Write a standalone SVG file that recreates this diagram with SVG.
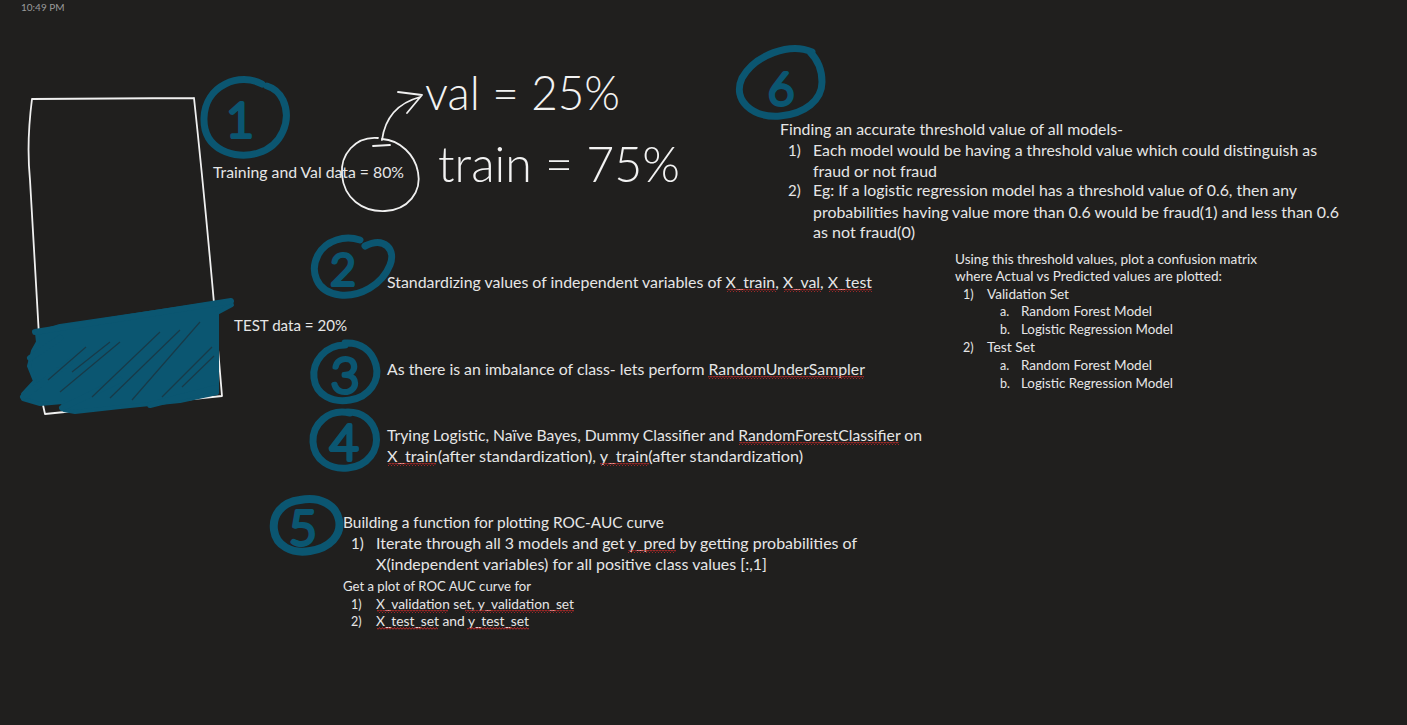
<svg xmlns="http://www.w3.org/2000/svg" width="1407" height="725" viewBox="0 0 1407 725">
<style>
.t{font-family:Lato,"Open Sans","Liberation Sans",sans-serif;font-size:15px;fill:#e6e6e6}
.s{font-family:Lato,"Open Sans","Liberation Sans",sans-serif;font-size:12.5px;fill:#e6e6e6}
.hw{font-family:Lato,"Open Sans","Liberation Sans",sans-serif;font-weight:300;fill:#f2f2f2}
.dg{font-family:Lato,"Open Sans","Liberation Sans",sans-serif;font-weight:300;fill:#0b5671;stroke:#0b5671;stroke-width:4;stroke-linejoin:round;text-anchor:middle}
.ring{fill:none;stroke:#0b5671;stroke-width:7;stroke-linecap:round;stroke-linejoin:round}
.ink{fill:none;stroke:#f0f0f0;stroke-width:1.8;stroke-linecap:round;stroke-linejoin:round}
.scr{fill:none;stroke:#0b5671;stroke-width:6;stroke-linecap:round}
</style>
<defs>
<pattern id="sq" width="3" height="3" patternUnits="userSpaceOnUse">
<path d="M0,2.5 L1.5,0.5 L3,2.5" fill="none" stroke="#d42a2a" stroke-width="0.9"/>
</pattern>
</defs>
<rect width="1407" height="725" fill="#201f1e"/>
<text x="21" y="11" style="font-family:Lato,'Open Sans',sans-serif;font-size:10px;fill:#9a9a9a">10:49 PM</text>

<g id="split-box">
<path class="ink" d="M32,99 L194,98 M194,98 C205,200 214,300 222,396 L45,414 L43,405 M32,99 C28,130 28,160 30,180 L43,405"/>
<path d="M37,333 L60,326 L230,301 L232,305 L217,313 L217,393 L180,401 L120,407 L75,412 L64,410 L63,402 L40,404 L23,399 L23,394 L35,381 L29,366 L33,351 L38,342 Z" fill="#0b5671" stroke="#0b5671" stroke-width="4" stroke-linejoin="round"/>
<path class="scr" d="M35,332 L231,301 M23,397 L70,362 M30,358 L60,338 M62,408 L120,380 M150,405 L216,388"/>
<path d="M60,392 L120,342 M92,397 L160,332 M132,400 L200,322 M72,372 L110,342 M162,397 L212,347 M48,380 L86,347 M182,387 L214,356 M110,398 L180,330" stroke="#183a48" stroke-width="1.2" fill="none"/>
<text class="t" x="213" y="178" textLength="191" lengthAdjust="spacingAndGlyphs">Training and Val data = 80%</text>
<text class="t" x="234" y="331" textLength="113" lengthAdjust="spacingAndGlyphs">TEST data = 20%</text>
</g>

<g id="step1">
<path class="ring" d="M262,84 C240,72 205,85 204,118 C203,150 235,160 258,153 C282,146 292,120 283,100 C279,92 274,88 267,86"/>
<text class="dg" x="240" y="137" font-size="48">1</text>
</g>

<g id="split-note">
<path class="ink" d="M378,138 C355,136 340,155 342,175 C344,198 362,212 385,211 C408,210 422,192 418,172 C415,155 400,140 382,139 M373,146 L390,145"/>
<text class="hw" x="425" y="110" font-size="48" textLength="195" lengthAdjust="spacingAndGlyphs">val = 25%</text>
<text class="hw" x="438" y="182" font-size="50" textLength="242" lengthAdjust="spacingAndGlyphs">train = 75%</text>
</g>

<g id="connectors">
<path class="ink" d="M382,140 C385,118 398,103 420,97 M398,92 L422,95 L407,113"/>
</g>

<g id="step2">
<path class="ring" d="M365,246 C385,236 396,250 390,265 C382,285 360,297 340,295 C315,292 310,270 318,255 C326,240 345,235 360,240"/>
<text class="dg" x="343" y="285" font-size="44">2</text>
<text class="t" x="387" y="288" textLength="485" lengthAdjust="spacingAndGlyphs">Standardizing values of independent variables of X_train, X_val, X_test</text>
<rect x="727" y="289" width="49" height="3" fill="url(#sq)"/>
<rect x="784" y="289" width="37" height="3" fill="url(#sq)"/>
<rect x="829" y="289" width="43" height="3" fill="url(#sq)"/>
</g>

<g id="step3">
<path class="ring" d="M345,345 C325,345 312,362 314,378 C316,395 332,403 350,400 C370,397 380,380 376,365 C372,350 360,342 345,343"/>
<text class="dg" x="345" y="393" font-size="50">3</text>
<text class="t" x="387" y="375" textLength="478" lengthAdjust="spacingAndGlyphs">As there is an imbalance of class- lets perform RandomUnderSampler</text>
<rect x="708" y="376" width="156" height="3" fill="url(#sq)"/>
</g>

<g id="step4">
<path class="ring" d="M350,413 C328,408 312,425 313,442 C314,460 330,470 348,468 C368,466 379,450 376,434 C373,420 362,412 348,412"/>
<text class="dg" x="344" y="460" font-size="50">4</text>
<text class="t" x="387" y="441" textLength="535" lengthAdjust="spacingAndGlyphs">Trying Logistic, Naïve Bayes, Dummy Classifier and RandomForestClassifier on</text>
<text class="t" x="387" y="462" textLength="416" lengthAdjust="spacingAndGlyphs">X_train(after standardization), y_train(after standardization)</text>
<rect x="739" y="442" width="160" height="3" fill="url(#sq)"/>
<rect x="388" y="463" width="48" height="3" fill="url(#sq)"/>
<rect x="600" y="463" width="49" height="3" fill="url(#sq)"/>
</g>

<g id="step5">
<path class="ring" style="stroke-width:8" d="M300,500 C282,502 272,515 274,530 C276,546 292,554 310,551 C330,548 342,535 339,520 C336,505 320,496 300,500"/>
<text class="dg" x="303" y="545" font-size="48">5</text>
<text class="t" x="343" y="528" textLength="321" lengthAdjust="spacingAndGlyphs">Building a function for plotting ROC-AUC curve</text>
<text class="t" x="351" y="549">1)</text>
<text class="t" x="376" y="549" textLength="481" lengthAdjust="spacingAndGlyphs">Iterate through all 3 models and get y_pred by getting probabilities of</text>
<text class="t" x="376" y="570" textLength="391" lengthAdjust="spacingAndGlyphs">X(independent variables) for all positive class values [:,1]</text>
<rect x="628" y="550" width="48" height="3" fill="url(#sq)"/>
<text class="s" x="343" y="591" textLength="188" lengthAdjust="spacingAndGlyphs">Get a plot of ROC AUC curve for</text>
<text class="s" x="351" y="609">1)</text>
<text class="s" x="376" y="609" textLength="198" lengthAdjust="spacingAndGlyphs">X_validation set, y_validation_set</text>
<text class="s" x="351" y="626">2)</text>
<text class="s" x="376" y="626" textLength="153" lengthAdjust="spacingAndGlyphs">X_test_set and y_test_set</text>
<rect x="377" y="610" width="71" height="3" fill="url(#sq)"/>
<rect x="465" y="610" width="109" height="3" fill="url(#sq)"/>
<rect x="377" y="627" width="61" height="3" fill="url(#sq)"/>
<rect x="467" y="627" width="62" height="3" fill="url(#sq)"/>
</g>

<g id="step6">
<path class="ring" d="M812,52 C790,42 755,55 742,78 C732,100 752,118 780,116 C805,114 822,100 822,82 C822,68 816,58 810,52"/>
<text class="dg" x="781" y="105" font-size="46">6</text>
<text class="t" x="780" y="135" textLength="343" lengthAdjust="spacingAndGlyphs">Finding an accurate threshold value of all models-</text>
<text class="t" x="788" y="156">1)</text>
<text class="t" x="813" y="156" textLength="504" lengthAdjust="spacingAndGlyphs">Each model would be having a threshold value which could distinguish as</text>
<text class="t" x="813" y="177" textLength="124" lengthAdjust="spacingAndGlyphs">fraud or not fraud</text>
<text class="t" x="788" y="196">2)</text>
<text class="t" x="813" y="196" textLength="484" lengthAdjust="spacingAndGlyphs">Eg: If a logistic regression model has a threshold value of 0.6, then any</text>
<text class="t" x="813" y="218" textLength="526" lengthAdjust="spacingAndGlyphs">probabilities having value more than 0.6 would be fraud(1) and less than 0.6</text>
<text class="t" x="813" y="238" textLength="102" lengthAdjust="spacingAndGlyphs">as not fraud(0)</text>
</g>

<g id="confusion">
<text class="s" x="955" y="264" textLength="302" lengthAdjust="spacingAndGlyphs">Using this threshold values, plot a confusion matrix</text>
<text class="s" x="955" y="281" textLength="267" lengthAdjust="spacingAndGlyphs">where Actual vs Predicted values are plotted:</text>
<text class="s" x="963" y="299">1)</text>
<text class="s" x="987" y="299" textLength="82" lengthAdjust="spacingAndGlyphs">Validation Set</text>
<text class="s" x="1000" y="316">a.</text>
<text class="s" x="1021" y="316" textLength="131" lengthAdjust="spacingAndGlyphs">Random Forest Model</text>
<text class="s" x="1000" y="334">b.</text>
<text class="s" x="1021" y="334" textLength="152" lengthAdjust="spacingAndGlyphs">Logistic Regression Model</text>
<text class="s" x="963" y="352">2)</text>
<text class="s" x="987" y="352" textLength="48" lengthAdjust="spacingAndGlyphs">Test Set</text>
<text class="s" x="1000" y="370">a.</text>
<text class="s" x="1021" y="370" textLength="131" lengthAdjust="spacingAndGlyphs">Random Forest Model</text>
<text class="s" x="1000" y="388">b.</text>
<text class="s" x="1021" y="388" textLength="152" lengthAdjust="spacingAndGlyphs">Logistic Regression Model</text>
</g>
</svg>
